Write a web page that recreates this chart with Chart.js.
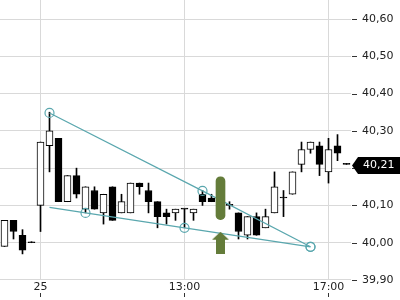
<!DOCTYPE html>
<html>
<head>
<meta charset="utf-8">
<script src="https://cdn.jsdelivr.net/npm/chart.js@4/dist/chart.umd.min.js"></script>
<style>
  html, body { margin: 0; padding: 0; background: #fff; }
  canvas { display: block; }
</style>
</head>
<body>
<canvas id="grafico" width="400" height="300"></canvas>
<script>
// candles de 15 minutos
const horarios = [
  "24 16:45", "24 17:00", "24 17:15", "24 17:30",
  "25 09:00", "25 09:15", "25 09:30", "25 09:45",
  "25 10:00", "25 10:15", "25 10:30", "25 10:45",
  "25 11:00", "25 11:15", "25 11:30", "25 11:45",
  "25 12:00", "25 12:15", "25 12:30", "25 12:45",
  "25 13:00", "25 13:15", "25 13:30", "25 13:45",
  "25 14:00", "25 14:15", "25 14:30", "25 14:45",
  "25 15:00", "25 15:15", "25 15:30", "25 15:45",
  "25 16:00", "25 16:15", "25 16:30", "25 16:45",
  "25 17:00", "25 17:15", "25 17:30",
];
const abertura = [
  39.99, 40.06, 40.02, 40.00, 40.10, 40.26, 40.28, 40.11, 40.18, 40.09,
  40.14, 40.08, 40.15, 40.08, 40.08, 40.16, 40.14, 40.11, 40.08, 40.08,
  40.09, 40.08, 40.13, 40.12, 40.11, 40.10, 40.08, 40.02, 40.07, 40.04,
  40.08, 40.12, 40.13, 40.21, 40.25, 40.26, 40.19, 40.26, 40.21,
];
const maxima = [
  40.06, 40.06, 40.035, 40.00, 40.27, 40.35, 40.28, 40.18, 40.20, 40.15,
  40.15, 40.13, 40.15, 40.13, 40.16, 40.16, 40.16, 40.11, 40.09, 40.09,
  40.09, 40.09, 40.14, 40.13, 40.13, 40.11, 40.08, 40.07, 40.08, 40.09,
  40.19, 40.14, 40.19, 40.27, 40.27, 40.27, 40.28, 40.29, 40.21,
];
const minima = [
  39.99, 40.01, 39.97, 40.00, 40.03, 40.19, 40.11, 40.11, 40.12, 40.08,
  40.09, 40.05, 40.06, 40.08, 40.08, 40.13, 40.08, 40.04, 40.05, 40.06,
  40.04, 40.06, 40.10, 40.11, 40.11, 40.09, 40.01, 40.01, 40.02, 40.04,
  40.08, 40.07, 40.13, 40.19, 40.24, 40.18, 40.16, 40.22, 40.21,
];
const fechamento = [
  40.06, 40.03, 39.98, 40.00, 40.27, 40.30, 40.11, 40.18, 40.13, 40.15,
  40.09, 40.13, 40.06, 40.11, 40.16, 40.15, 40.11, 40.07, 40.07, 40.09,
  40.09, 40.09, 40.11, 40.11, 40.12, 40.10, 40.03, 40.07, 40.02, 40.07,
  40.15, 40.12, 40.19, 40.25, 40.27, 40.21, 40.25, 40.24, 40.21,
];

const ticksIdx = [4, 20, 36];
const ticksTexto = ["25", "13:00", "17:00"];

// linhas de tendencia
const linhaSupIdx = [5, 22, 34];
const linhaSupVal = [40.348, 40.139, 39.989];
const linhaInfIdx = [5, 9, 20, 34];
const linhaInfVal = [40.095, 40.08, 40.04, 39.989];
const linhaInfCirculos = [9, 20, 34];

// marcacoes verdes
const marcaIdx = 24;
const marcaFaixa = [40.062, 40.177];
const setaValor = 40.0;

const corTendencia = "#5aa7ae";
const corVerde = "#647c3a";

const formatador = new Intl.NumberFormat("pt-BR", {
  minimumFractionDigits: 2,
  maximumFractionDigits: 2,
});

function serieEsparsa(indices, valores) {
  const serie = horarios.map(() => null);
  indices.forEach((idx, k) => {
    serie[idx] = valores[k];
  });
  return serie;
}

// seta para cima desenhada num canvas pequeno, usada como pointStyle
const seta = document.createElement("canvas");
seta.width = 17;
seta.height = 22;
const sctx = seta.getContext("2d");
sctx.fillStyle = corVerde;
sctx.beginPath();
sctx.moveTo(8.5, 0);
sctx.lineTo(17, 8);
sctx.lineTo(13, 8);
sctx.lineTo(13, 22);
sctx.lineTo(4, 22);
sctx.lineTo(4, 8);
sctx.lineTo(0, 8);
sctx.closePath();
sctx.fill();

const extras = {
  id: "extras",
  afterDraw(chart) {
    const ctx = chart.ctx;
    const area = chart.chartArea;
    const y = chart.scales.y;
    const x = chart.scales.x;
    ctx.save();
    ctx.strokeStyle = "#333";
    ctx.lineWidth = 1;
    y.ticks.forEach((t) => {
      const py = Math.round(y.getPixelForValue(t.value)) + 0.5;
      ctx.beginPath();
      ctx.moveTo(area.right + 1, py);
      ctx.lineTo(area.right + 6, py);
      ctx.stroke();
    });
    x.ticks.forEach((t) => {
      const px = Math.round(x.getPixelForValue(t.value) - 0.5) + 0.5;
      ctx.beginPath();
      ctx.moveTo(px, 293);
      ctx.lineTo(px, 297);
      ctx.stroke();
    });

    // etiqueta do ultimo preco
    const ultimo = fechamento[fechamento.length - 1];
    const yc = y.getPixelForValue(ultimo) + 1;
    const xl = area.right + 1;
    ctx.fillStyle = "#000";
    ctx.beginPath();
    ctx.moveTo(xl, yc);
    ctx.lineTo(xl + 6, yc - 8.5);
    ctx.lineTo(chart.width, yc - 8.5);
    ctx.lineTo(chart.width, yc + 8.5);
    ctx.lineTo(xl + 6, yc + 8.5);
    ctx.closePath();
    ctx.fill();
    ctx.fillStyle = "#fff";
    ctx.font = "11px 'DejaVu Sans'";
    ctx.textBaseline = "middle";
    ctx.textAlign = "left";
    ctx.fillText(formatador.format(ultimo), area.right + 12, yc);
    ctx.restore();
  },
};

Chart.defaults.font.family = "'DejaVu Sans', sans-serif";
Chart.defaults.font.size = 11;
Chart.defaults.color = "#222";

new Chart(document.getElementById("grafico"), {
  type: "bar",
  data: {
    labels: horarios,
    datasets: [
      {
        label: "pavio",
        data: minima.map((v, i) => [v, maxima[i]]),
        backgroundColor: "#000",
        borderWidth: 0,
        barThickness: 1,
        minBarLength: 1,
        grouped: false,
        order: 10,
      },
      {
        label: "corpo",
        data: abertura.map((v, i) => [v, fechamento[i]]),
        backgroundColor: abertura.map((v, i) => (fechamento[i] > v ? "#fff" : "#000")),
        borderColor: "#000",
        borderWidth: 1,
        borderSkipped: false,
        barThickness: 7,
        minBarLength: 1,
        grouped: false,
        order: 9,
      },
      {
        type: "line",
        label: "tendencia superior",
        data: serieEsparsa(linhaSupIdx, linhaSupVal),
        spanGaps: true,
        borderColor: corTendencia,
        borderWidth: 1.2,
        pointRadius: 4.5,
        pointBackgroundColor: "rgba(0,0,0,0)",
        pointBorderColor: corTendencia,
        pointBorderWidth: 1.2,
        order: 3,
      },
      {
        type: "line",
        label: "tendencia inferior",
        data: serieEsparsa(linhaInfIdx, linhaInfVal),
        spanGaps: true,
        borderColor: corTendencia,
        borderWidth: 1.2,
        pointRadius: (c) => (linhaInfCirculos.includes(c.dataIndex) ? 4.5 : 0),
        pointBackgroundColor: "rgba(0,0,0,0)",
        pointBorderColor: corTendencia,
        pointBorderWidth: 1.2,
        order: 2,
      },
      {
        label: "marca",
        data: serieEsparsa([marcaIdx], [marcaFaixa]),
        backgroundColor: corVerde,
        borderWidth: 0,
        borderRadius: 5,
        borderSkipped: false,
        barThickness: 9,
        grouped: false,
        order: 1,
      },
      {
        type: "line",
        label: "seta",
        data: serieEsparsa([marcaIdx], [setaValor]),
        showLine: false,
        pointStyle: seta,
        pointRadius: 5,
        order: 0,
      },
    ],
  },
  options: {
    responsive: false,
    animation: false,
    events: [],
    layout: { padding: 0, autoPadding: false },
    plugins: {
      legend: { display: false },
      tooltip: { enabled: false },
    },
    scales: {
      x: {
        offset: true,
        border: { display: false },
        grid: { color: "#d9d9d9", offset: false, drawTicks: false },
        afterBuildTicks: (axis) => {
          axis.ticks = axis.ticks.filter((t) => ticksIdx.includes(t.value));
        },
        afterFit: (axis) => {
          axis.height = 20;
          axis.paddingLeft = 0;
          axis.paddingRight = 0;
        },
        ticks: {
          autoSkip: false,
          maxRotation: 0,
          padding: 1,
          color: "#222",
          callback: (value) => ticksTexto[ticksIdx.indexOf(value)],
        },
      },
      y: {
        position: "right",
        min: 39.9,
        max: 40.651,
        border: { display: false },
        grid: { color: "#d9d9d9", drawTicks: false },
        afterFit: (axis) => {
          axis.width = 49;
          axis.paddingTop = 0;
          axis.paddingBottom = 0;
        },
        ticks: {
          stepSize: 0.1,
          includeBounds: false,
          padding: 11,
          color: "#222",
          callback: (value) => formatador.format(value),
        },
      },
    },
  },
  plugins: [extras],
});
</script>
</body>
</html>
